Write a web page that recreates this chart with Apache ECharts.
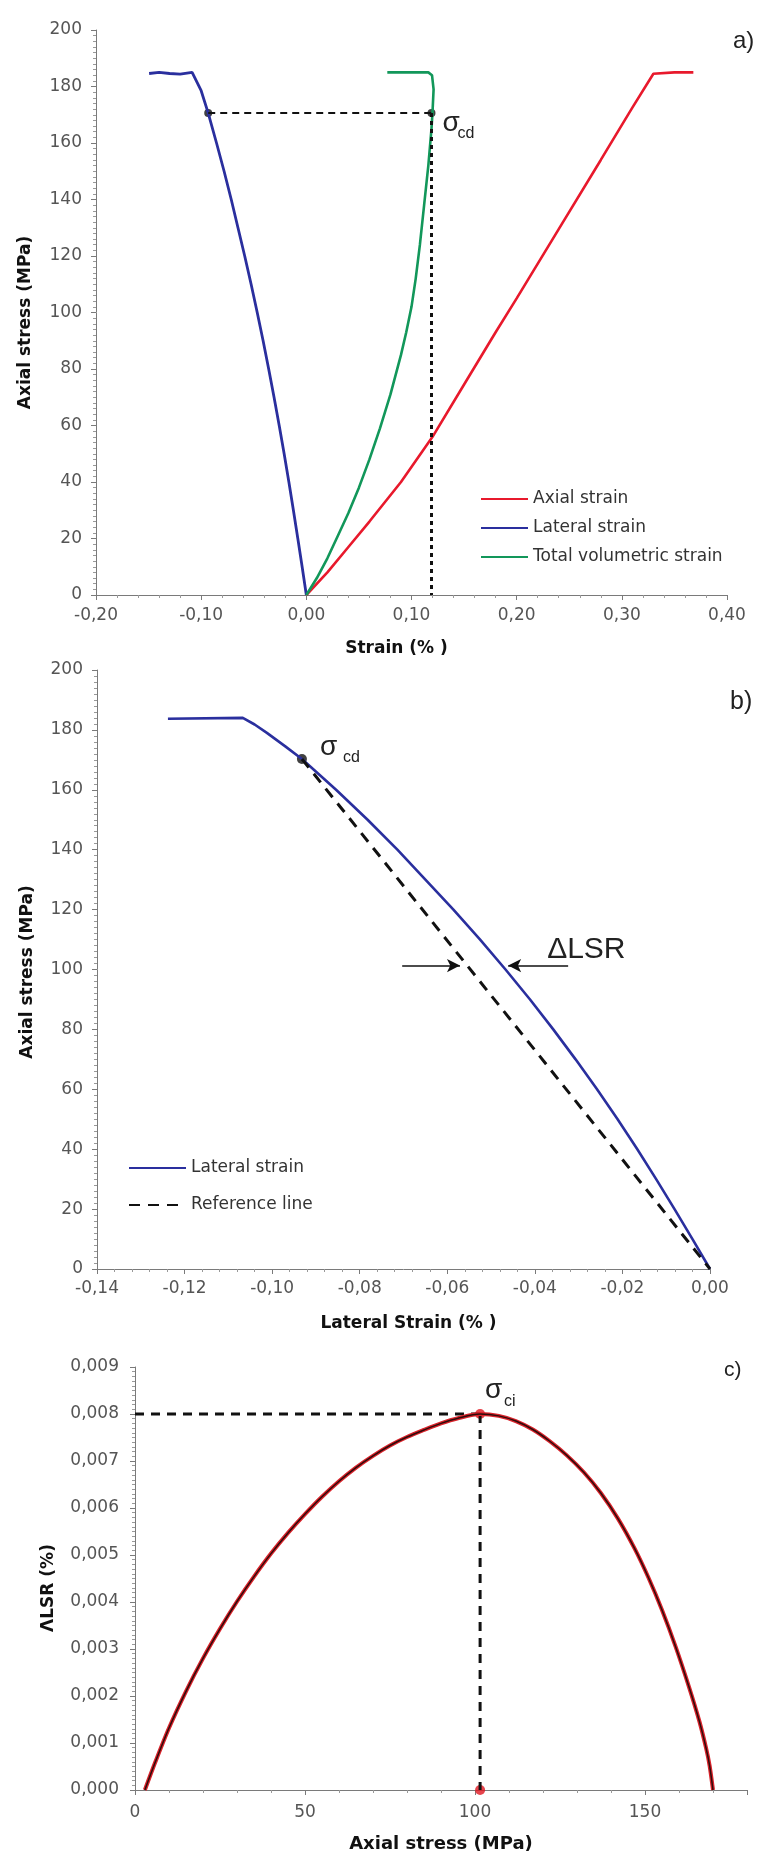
<!DOCTYPE html>
<html>
<head>
<meta charset="utf-8">
<script src="https://cdn.jsdelivr.net/npm/echarts@6/dist/echarts.min.js"></script>
<style>
  html, body { margin: 0; padding: 0; background: #fff; }
  #chart { width: 766px; height: 1858px; }
</style>
</head>
<body>
<div id="chart"></div>
<script>
// ---- Panel a: axial stress (MPa) vs strain (%) ----
const axialStrainA = [
  [0, 0], [0.02, 8], [0.04, 17], [0.06, 26], [0.09, 40], [0.12, 56],
  [0.15, 74.5], [0.18, 93], [0.2, 105], [0.24, 129.5], [0.28, 154],
  [0.31, 172.5], [0.33, 184.5], [0.35, 185], [0.368, 185]
];
const lateralStrainA = [
  [0, 0], [-0.004, 10], [-0.0081, 20], [-0.0123, 30], [-0.0166, 40],
  [-0.0211, 50], [-0.0258, 60], [-0.0307, 70], [-0.0358, 80], [-0.0411, 90],
  [-0.0467, 100], [-0.0525, 110], [-0.0586, 120], [-0.065, 130],
  [-0.0714, 140], [-0.0782, 150], [-0.0854, 160], [-0.0933, 170.6],
  [-0.1, 178.5], [-0.1086, 185], [-0.12, 184.4], [-0.13, 184.6],
  [-0.14, 185], [-0.1495, 184.6]
];
const volumetricStrainA = [
  [0, 0], [0.01, 6], [0.02, 13], [0.03, 21], [0.04, 29], [0.05, 38],
  [0.06, 48], [0.07, 59], [0.08, 71], [0.09, 85], [0.095, 93], [0.1, 102],
  [0.104, 112], [0.108, 124], [0.112, 138], [0.116, 152], [0.119, 165],
  [0.12, 171], [0.121, 179], [0.1195, 184], [0.116, 185], [0.077, 185]
];
const cdStressA = 170.6;
const cdLateralA = -0.0933;
const cdVolumetricA = 0.119;

// ---- Panel b: axial stress (MPa) vs lateral strain (%) ----
const lateralStrainB = [
  [0, 0], [-0.004, 10], [-0.0081, 20], [-0.0123, 30], [-0.0166, 40],
  [-0.0211, 50], [-0.0258, 60], [-0.0307, 70], [-0.0358, 80], [-0.0411, 90],
  [-0.0467, 100], [-0.0525, 110], [-0.0586, 120], [-0.065, 130],
  [-0.0714, 140], [-0.0782, 150], [-0.0854, 160], [-0.0932, 170.3],
  [-0.097, 174.5], [-0.1012, 179], [-0.104, 181.8], [-0.1067, 184],
  [-0.1238, 183.7]
];
const cdPointB = [-0.0932, 170.3];
const referenceLineB = [[-0.0932, 170.3], [0, 0]];
const gapStressB = 101.3;
const gapArrowLeftB = [-0.0703, -0.0571];   // tail, tip
const gapArrowRightB = [-0.0324, -0.0461];  // tail, tip

// ---- Panel c: ΔLSR (%) vs axial stress (MPa) ----
const lsrCurveC = [
  [2.9, 0], [6, 0.0006], [10, 0.00132], [15, 0.0021], [20, 0.0028],
  [25, 0.00343], [30, 0.00401], [35, 0.00454], [40, 0.00503], [45, 0.00547],
  [50, 0.00587], [55, 0.00624], [60, 0.00657], [65, 0.00686], [70, 0.00711],
  [75, 0.00733], [80, 0.00751], [85, 0.00766], [90, 0.0078], [95, 0.00791],
  [101.5, 0.008], [107, 0.00796], [112, 0.00785], [117, 0.00767], [122, 0.00742],
  [127, 0.00712], [132, 0.00676], [137, 0.00632], [142, 0.00578], [147, 0.00513],
  [151, 0.00452], [155, 0.00383], [159, 0.00305], [163, 0.00218], [166, 0.00146],
  [168, 0.00088], [169, 0.00052], [170, 0]
];
const ciPointC = [101.5, 0.008];

const FONT = 'DejaVu Sans';
const AXIS_GRAY = '#7a7a7a';
const LABEL_GRAY = '#555';

function commaFixed(d) {
  return v => (v < 0 ? '-' : '') + Math.abs(v).toFixed(d).replace('.', ',');
}

function valueAxis(o) {
  return {
    type: 'value',
    gridIndex: o.grid,
    min: o.min, max: o.max, interval: o.interval,
    name: o.name, nameLocation: 'middle', nameGap: o.nameGap,
    nameRotate: o.nameRotate,
    nameTextStyle: Object.assign({
      fontFamily: FONT, fontWeight: 'bold', fontSize: 17, color: '#111'
    }, o.nameStyle || {}),
    axisLine: { show: true, onZero: false, lineStyle: { color: AXIS_GRAY, width: 1 } },
    axisTick: { show: true, inside: false, length: 5, lineStyle: { color: AXIS_GRAY } },
    minorTick: { show: true, splitNumber: o.minor, length: 3, lineStyle: { color: '#999' } },
    splitLine: { show: false },
    minorSplitLine: { show: false },
    axisLabel: {
      fontFamily: FONT, fontSize: 17, color: LABEL_GRAY, margin: o.margin,
      formatter: o.fmt, showMaxLabel: o.showMax !== false, showMinLabel: true
    }
  };
}

const legendText = { fontFamily: FONT, fontSize: 17, color: '#333', lineHeight: 20 };

const option = {
  animation: false,
  backgroundColor: '#fff',
  grid: [
    { left: 96, top: 30, width: 631, height: 565, outerBoundsMode: 'none' },
    { left: 97, top: 670, width: 613, height: 599, outerBoundsMode: 'none' },
    { left: 135, top: 1367, width: 612, height: 423, outerBoundsMode: 'none' }
  ],
  xAxis: [
    valueAxis({ grid: 0, min: -0.2, max: 0.4, interval: 0.1, minor: 5, margin: 12,
      fmt: commaFixed(2), name: 'Strain (% )', nameGap: 45,
      nameStyle: { padding: [0, 30, 0, 0] } }),
    valueAxis({ grid: 1, min: -0.14, max: 0, interval: 0.02, minor: 5, margin: 11,
      fmt: commaFixed(2), name: 'Lateral Strain (% )', nameGap: 46,
      nameStyle: { padding: [0, 0, 0, 10] } }),
    valueAxis({ grid: 2, min: 0, max: 180, interval: 50, minor: 5, margin: 14,
      fmt: v => String(v), showMax: false, name: 'Axial stress (MPa)', nameGap: 45,
      nameStyle: { fontSize: 18 } })
  ],
  yAxis: [
    valueAxis({ grid: 0, min: 0, max: 200, interval: 20, minor: 10, margin: 14,
      fmt: v => String(v), name: 'Axial stress (MPa)', nameGap: 62, nameRotate: 90,
      nameStyle: { padding: [0, 20, 0, 0] } }),
    valueAxis({ grid: 1, min: 0, max: 200, interval: 20, minor: 10, margin: 14,
      fmt: v => String(v), name: 'Axial stress (MPa)', nameGap: 61, nameRotate: 90,
      nameStyle: { padding: [0, 5, 0, 0] } }),
    valueAxis({ grid: 2, min: 0, max: 0.009, interval: 0.001, minor: 10, margin: 16,
      fmt: commaFixed(3), name: 'ΛLSR (%)', nameGap: 78, nameRotate: 90,
      nameStyle: { padding: [0, 19, 0, 0] } })
  ],
  legend: [
    {
      orient: 'vertical', left: 480, top: 489, padding: 0,
      itemWidth: 47, itemHeight: 14, itemGap: 9,
      itemStyle: { opacity: 0 },
      textStyle: legendText,
      data: ['Axial strain', 'Lateral strain', 'Total volumetric strain']
    },
    {
      orient: 'vertical', left: 128, top: 1158, padding: 0,
      itemWidth: 57, itemHeight: 14, itemGap: 17,
      itemStyle: { opacity: 0 },
      textStyle: legendText,
      data: ['Lateral strain', 'Reference line']
    }
  ],
  series: [
    // panel a
    { name: 'Axial strain', type: 'line', xAxisIndex: 0, yAxisIndex: 0,
      data: axialStrainA, symbol: 'none', lineStyle: { color: '#e8192c', width: 2.6 },
      itemStyle: { color: '#e8192c' } },
    { name: 'Lateral strain', type: 'line', xAxisIndex: 0, yAxisIndex: 0,
      data: lateralStrainA, symbol: 'none', lineStyle: { color: '#2a2f9e', width: 2.8 },
      itemStyle: { color: '#2a2f9e' } },
    { name: 'Total volumetric strain', type: 'line', xAxisIndex: 0, yAxisIndex: 0,
      data: volumetricStrainA, symbol: 'none', lineStyle: { color: '#12975a', width: 2.6 },
      itemStyle: { color: '#12975a' } },
    { name: 'cd-level-a', type: 'line', xAxisIndex: 0, yAxisIndex: 0, silent: true,
      data: [[cdLateralA, cdStressA], [cdVolumetricA, cdStressA]], symbol: 'none',
      lineStyle: { color: '#111', width: 2, type: [7, 5] } },
    { name: 'cd-drop-a', type: 'line', xAxisIndex: 0, yAxisIndex: 0, silent: true,
      data: [[cdVolumetricA, cdStressA], [cdVolumetricA, 0]], symbol: 'none',
      lineStyle: { color: '#111', width: 3, type: [4, 4] } },
    { name: 'cd-points-a', type: 'scatter', xAxisIndex: 0, yAxisIndex: 0, silent: true,
      data: [[cdLateralA, cdStressA], [cdVolumetricA, cdStressA]],
      symbol: 'circle', symbolSize: 8, itemStyle: { color: '#111' } },

    // panel b
    { name: 'Lateral strain', type: 'line', xAxisIndex: 1, yAxisIndex: 1,
      data: lateralStrainB, symbol: 'none', lineStyle: { color: '#2a2f9e', width: 2.6 },
      itemStyle: { color: '#2a2f9e' } },
    { name: 'Reference line', type: 'line', xAxisIndex: 1, yAxisIndex: 1,
      data: referenceLineB, symbol: 'none',
      lineStyle: { color: '#111', width: 3, type: [11, 8] }, itemStyle: { color: '#111' },
      markLine: {
        silent: true, symbol: ['none', 'arrow'], symbolSize: [10, 13],
        label: { show: false },
        lineStyle: { color: '#111', width: 1.5, type: 'solid' },
        data: [
          [{ coord: [gapArrowLeftB[0], gapStressB] }, { coord: [gapArrowLeftB[1], gapStressB] }],
          [{ coord: [gapArrowRightB[0], gapStressB] }, { coord: [gapArrowRightB[1], gapStressB] }]
        ]
      } },
    { name: 'cd-point-b', type: 'scatter', xAxisIndex: 1, yAxisIndex: 1, silent: true,
      data: [cdPointB], symbol: 'circle', symbolSize: 10, itemStyle: { color: '#111' } },

    // panel c
    { name: 'ci-level-c', type: 'line', xAxisIndex: 2, yAxisIndex: 2, silent: true,
      data: [[0, ciPointC[1]], ciPointC], symbol: 'none',
      lineStyle: { color: '#111', width: 3, type: [9, 7] } },
    { name: 'ci-drop-c', type: 'line', xAxisIndex: 2, yAxisIndex: 2, silent: true,
      data: [ciPointC, [ciPointC[0], 0]], symbol: 'none',
      lineStyle: { color: '#111', width: 3, type: [9, 7] } },
    { name: 'ΔLSR', type: 'line', xAxisIndex: 2, yAxisIndex: 2, smooth: 0.3,
      data: lsrCurveC, symbol: 'none', lineStyle: { color: '#d9222a', width: 4 } },
    { name: 'ΔLSR core', type: 'line', xAxisIndex: 2, yAxisIndex: 2, silent: true, smooth: 0.3,
      data: lsrCurveC, symbol: 'none', lineStyle: { color: '#2e0c0c', width: 1.5 } },
    { name: 'ci-points-c', type: 'scatter', xAxisIndex: 2, yAxisIndex: 2, silent: true,
      data: [ciPointC, [ciPointC[0], 0]], symbol: 'circle', symbolSize: 10,
      itemStyle: { color: '#e0151f' } }
  ]
};

const chart = echarts.init(document.getElementById('chart'), null, { renderer: 'canvas' });
chart.setOption(option);

// Annotation texts anchored to the plotted points
const pa = chart.convertToPixel({ gridIndex: 0 }, [cdVolumetricA, cdStressA]);
const pb = chart.convertToPixel({ gridIndex: 1 }, cdPointB);
const pc = chart.convertToPixel({ gridIndex: 2 }, ciPointC);
const pArrow = chart.convertToPixel({ gridIndex: 1 }, [gapArrowRightB[0], gapStressB]);

function txt(text, x, y, size, extra) {
  return Object.assign({
    type: 'text', x: x, y: y, silent: true,
    style: { text: text, fontFamily: 'Liberation Sans', fontSize: size, fill: '#222',
      align: 'left', verticalAlign: 'middle' }
  }, extra || {});
}

chart.setOption({
  graphic: [
    txt('a)', 733, 41, 24),
    txt('b)', 730, 702, 25),
    txt('c)', 724, 1370, 21),
    txt('σ', pa[0] + 11, pa[1] + 10, 28),
    txt('cd', pa[0] + 26, pa[1] + 21, 16),
    txt('σ', pb[0] + 18, pb[1] - 12, 28),
    txt('cd', pb[0] + 41, pb[1] - 1, 16),
    txt('σ', pc[0] + 5, pc[1] - 24, 28),
    txt('ci', pc[0] + 24, pc[1] - 12, 16),
    txt('ΔLSR', pArrow[0] - 21, pArrow[1] - 16, 30)
  ]
});
</script>
</body>
</html>
